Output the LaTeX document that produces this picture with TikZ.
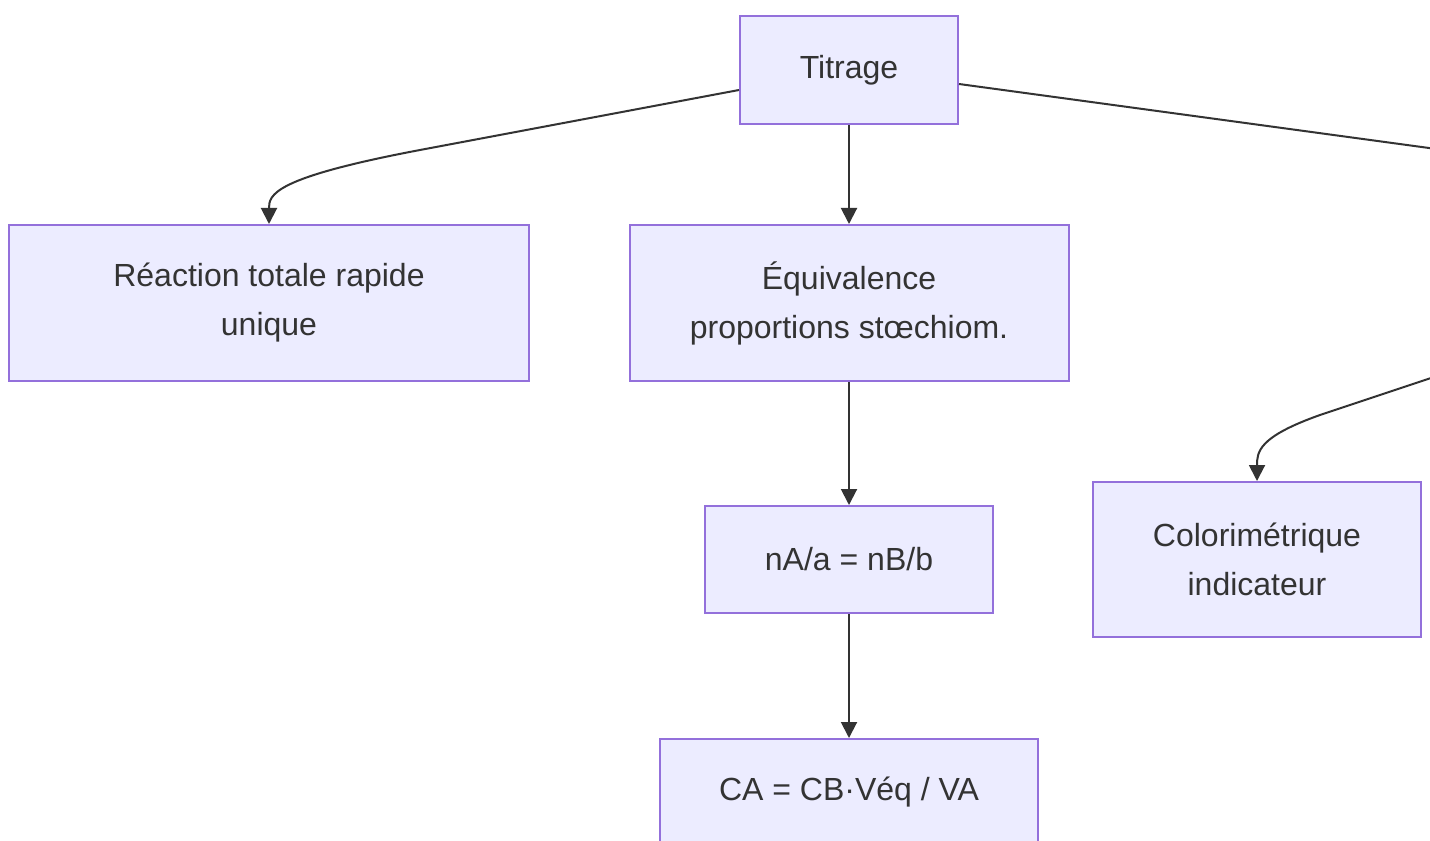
\documentclass[tikz,border=0pt]{standalone}
\usepackage{fontspec}
\setmainfont{Liberation Sans}
\usetikzlibrary{arrows.meta,calc}
\definecolor{boxfill}{HTML}{ECECFF}
\definecolor{boxline}{HTML}{9370DB}
\definecolor{ink}{HTML}{333333}

\begin{document}
\begin{tikzpicture}[x=0.75pt,y=-0.75pt,>={Triangle[length=12pt,width=12pt]},
    box/.style={draw=boxline,fill=boxfill,line width=1.5pt,text=ink,align=center,inner sep=0pt,font=\fontsize{24}{36.75}\selectfont},
    link/.style={->,draw=ink,line width=1.5pt}]
            \useasboundingbox (0,0) rectangle (1430,841);
            \clip (0,0) rectangle (1430,841);

            \node[box, minimum width=163.5pt, minimum height=81pt]      (titrage)  at (849,70)     {Titrage};
            \node[box, minimum width=390pt, minimum height=117pt]       (reaction) at (269,303)    {Réaction totale rapide\\unique};
            \node[box, minimum width=329.25pt, minimum height=117pt]    (equiv)    at (849,303)    {Équivalence\\proportions stœchiom.};
            \node[box, minimum width=216pt, minimum height=80.25pt]     (relation) at (849,559.5)  {nA/a = nB/b};
            \node[box, minimum width=246pt, minimum height=116.25pt]    (colori)   at (1257,559.5) {Colorimétrique\\indicateur};
            \node[box, minimum width=283.5pt, minimum height=80.25pt]   (concent)  at (849,792.5)  {CA = CB·Véq / VA};

            \coordinate (hors1) at (1440,149.5);
            \coordinate (hors2) at (1440,375);

            \draw[link] ($(titrage.west)+(0,20)$) -- (420,150) .. controls (272,178) and (269,195) .. (reaction.north);
            \draw[ink, line width=1.5pt] ($(titrage.east)+(0,14)$) -- (hors1);
            \draw[link] (hors2) -- (1320,415) .. controls (1258,437) and (1257,452) .. (colori.north);
            \draw[link] (titrage) -- (equiv);
            \draw[link] (equiv) -- (relation);
            \draw[link] (relation) -- (concent);
        \end{tikzpicture}
\end{document}
